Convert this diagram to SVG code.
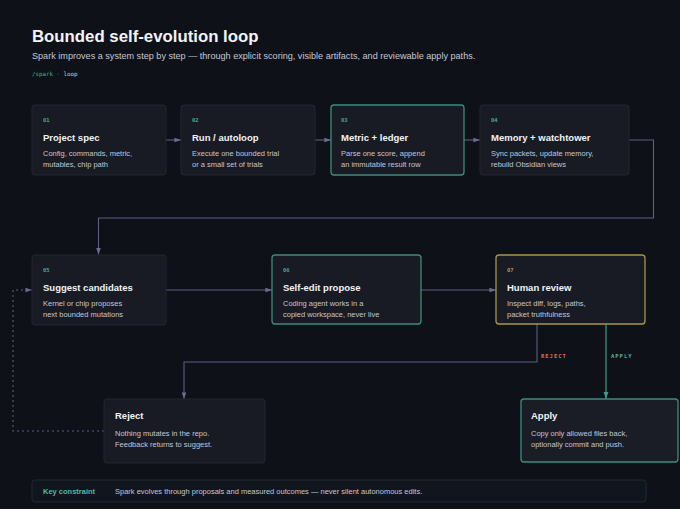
<svg xmlns="http://www.w3.org/2000/svg" width="680" height="509" viewBox="0 0 680 509">
<style>
text{font-family:"Liberation Sans",Arial,sans-serif}
.mono{font-family:"DejaVu Sans Mono","Liberation Mono",monospace}
.box{fill:#181b23;stroke:#23272f;stroke-width:1}
.teal{stroke:#3d8c7b;stroke-width:1.3}
.olive{stroke:#a89745;stroke-width:1.3}
.num{font-size:5.5px;fill:#4aa58e;font-weight:bold}
.ttl{font-size:9.5px;font-weight:bold;fill:#f1f3f6}
.dsc{font-size:7.5px;fill:#c2c6d6}
.conn{fill:none;stroke:#5d6180;stroke-width:1.1}
.lbl{font-size:5.5px;font-weight:bold;letter-spacing:1px}
</style>
<defs>
<marker id="ah" viewBox="0 0 10 10" refX="10" refY="5" markerWidth="6" markerHeight="6" orient="auto"><path d="M0,1.5 L10,5 L0,8.5 z" fill="#6a6e8e"/></marker>
<marker id="aht" viewBox="0 0 10 10" refX="10" refY="5" markerWidth="6" markerHeight="6" orient="auto"><path d="M0,1.5 L10,5 L0,8.5 z" fill="#3f9c88"/></marker>
</defs>
<rect width="680" height="509" fill="#0e1118"/>
<g id="header">
<text x="32" y="42" font-size="16.8" font-weight="bold" fill="#f3f4f7">Bounded self-evolution loop</text>
<text x="32" y="59" font-size="9.1" fill="#c3c7d4">Spark improves a system step by step — through explicit scoring, visible artifacts, and reviewable apply paths.</text>
<text x="32" y="76" class="mono" font-size="5.8"><tspan fill="#43b48f">/spark</tspan><tspan fill="#6b6f80"> · </tspan><tspan fill="#c8ccd8">loop</tspan></text>
</g>
<g id="connectors">
<path class="conn" d="M166,140 H181" marker-end="url(#ah)"/>
<path class="conn" d="M315,140 H331" marker-end="url(#ah)"/>
<path class="conn" d="M464,140 H480" marker-end="url(#ah)"/>
<path class="conn" d="M629,140 H653.5 V218 H98.5 V254.5" marker-end="url(#ah)"/>
<path class="conn" d="M166,290 H272" marker-end="url(#ah)"/>
<path class="conn" d="M421,290 H496" marker-end="url(#ah)"/>
<path class="conn" d="M537,324 V362 H184 V399" marker-end="url(#ah)"/>
<path fill="none" stroke="#3f9c88" stroke-width="1.2" d="M606,324 V399" marker-end="url(#aht)"/>
<path class="conn" stroke-dasharray="2 3" d="M104,431 H13 V290 H32" marker-end="url(#ah)"/>
<text x="541" y="357.5" class="mono lbl" fill="#d0705a">REJECT</text>
<text x="611" y="357.5" class="mono lbl" fill="#4fae97">APPLY</text>
</g>
<g id="n1">
<rect class="box" x="32" y="105" width="134" height="70" rx="3"/>
<text x="43" y="122" class="mono num">01</text>
<text x="43" y="141" class="ttl">Project spec</text>
<text x="43" y="156" class="dsc">Config, commands, metric,</text>
<text x="43" y="167" class="dsc">mutables, chip path</text>
</g>
<g id="n2">
<rect class="box" x="181" y="105" width="134" height="70" rx="3"/>
<text x="192" y="122" class="mono num">02</text>
<text x="192" y="141" class="ttl">Run / autoloop</text>
<text x="192" y="156" class="dsc">Execute one bounded trial</text>
<text x="192" y="167" class="dsc">or a small set of trials</text>
</g>
<g id="n3">
<rect class="box teal" x="331" y="105" width="133" height="70" rx="3"/>
<text x="341" y="122" class="mono num">03</text>
<text x="341" y="141" class="ttl">Metric + ledger</text>
<text x="341" y="156" class="dsc">Parse one score, append</text>
<text x="341" y="167" class="dsc">an immutable result row</text>
</g>
<g id="n4">
<rect class="box" x="480" y="105" width="149" height="70" rx="3"/>
<text x="491" y="122" class="mono num">04</text>
<text x="491" y="141" class="ttl">Memory + watchtower</text>
<text x="491" y="156" class="dsc">Sync packets, update memory,</text>
<text x="491" y="167" class="dsc">rebuild Obsidian views</text>
</g>
<g id="n5">
<rect class="box" x="32" y="255" width="134" height="70" rx="3"/>
<text x="43" y="272" class="mono num">05</text>
<text x="43" y="291" class="ttl">Suggest candidates</text>
<text x="43" y="306" class="dsc">Kernel or chip proposes</text>
<text x="43" y="316.5" class="dsc">next bounded mutations</text>
</g>
<g id="n6">
<rect class="box teal" x="272" y="255" width="149" height="69" rx="3"/>
<text x="283" y="272" class="mono num">06</text>
<text x="283" y="291" class="ttl">Self-edit propose</text>
<text x="283" y="306" class="dsc">Coding agent works in a</text>
<text x="283" y="316.5" class="dsc">copied workspace, never live</text>
</g>
<g id="n7">
<rect class="box olive" x="496" y="255" width="149" height="69" rx="3"/>
<text x="507" y="272" class="mono num" style="fill:#a59a4b">07</text>
<text x="507" y="291" class="ttl">Human review</text>
<text x="507" y="306" class="dsc">Inspect diff, logs, paths,</text>
<text x="507" y="316.5" class="dsc">packet truthfulness</text>
</g>
<g id="reject">
<rect class="box" x="104" y="399" width="161" height="64" rx="3"/>
<text x="115" y="419" class="ttl">Reject</text>
<text x="115" y="435.5" class="dsc">Nothing mutates in the repo.</text>
<text x="115" y="447" class="dsc">Feedback returns to suggest.</text>
</g>
<g id="apply">
<rect class="box teal" x="521" y="399" width="157" height="63" rx="3" style="fill:#1a1d26"/>
<text x="531" y="419" class="ttl">Apply</text>
<text x="531" y="435.5" class="dsc">Copy only allowed files back,</text>
<text x="531" y="447" class="dsc">optionally commit and push.</text>
</g>
<g id="footer">
<rect x="32" y="480" width="614" height="22" rx="3" fill="#11161e" stroke="#1f2b31"/>
<text x="43" y="494" font-size="7.5" font-weight="bold" fill="#4fb8a0">Key constraint</text>
<text x="115" y="494" font-size="7.5" fill="#c2c6d6">Spark evolves through proposals and measured outcomes — never silent autonomous edits.</text>
</g>
</svg>
